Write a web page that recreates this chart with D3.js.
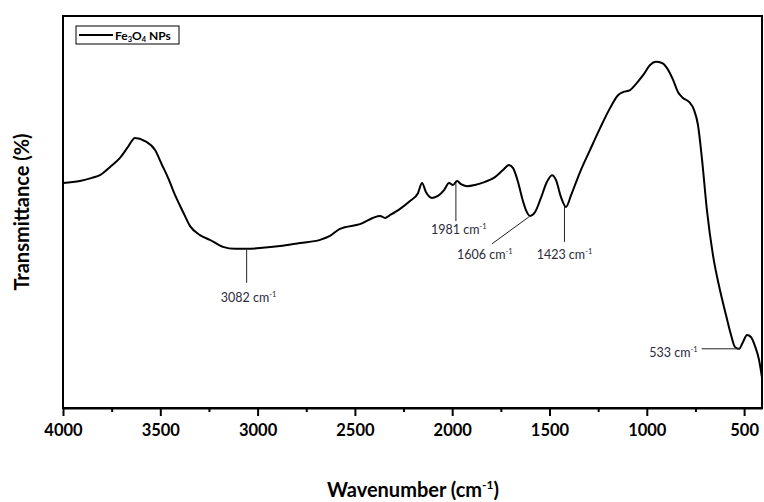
<!DOCTYPE html>
<html><head><meta charset="utf-8">
<script src="https://cdn.jsdelivr.net/npm/d3@7"></script>
<style>body{margin:0;background:#fff}svg{display:block}text{font-family:Lato,"Open Sans",sans-serif}</style>
</head><body><svg id="c" width="764" height="502"></svg>
<script>
// ---- data ----
const wavenumber = [4000,3913,3851,3810,3758,3707,3666,3630,3579,3527,3491,3460,3424,3383,3347,3296,3245,3178,3116,3054,2988,2885,2782,2679,2628,2577,2474,2371,2345,2320,2268,2217,2176,2155,2135,2104,2073,2042,2016,1996,1975,1955,1924,1883,1831,1780,1739,1708,1687,1662,1641,1621,1600,1574,1544,1513,1487,1467,1441,1415,1389,1343,1292,1240,1189,1148,1122,1086,1055,1019,983,953,922,896,865,840,814,783,757,737,716,691,660,624,593,567,547,526,506,485,465,444,423,408];
const transmittance = [57.4,57.9,58.7,59.4,61.5,63.8,66.6,68.9,68.1,65.8,62.0,58.7,54.3,50.0,46.4,44.1,42.9,41.1,40.6,40.6,40.8,41.3,42.1,42.9,43.9,45.7,46.9,49.0,48.5,49.2,50.8,52.8,54.8,57.4,55.1,53.6,54.1,55.6,57.4,56.9,57.9,57.1,56.6,56.9,57.7,58.9,60.7,62.0,61.2,57.7,53.6,50.5,49.0,50.0,53.6,57.7,59.4,58.2,53.8,51.3,54.3,60.2,65.8,71.4,76.5,79.8,80.6,81.1,82.7,84.9,87.5,88.3,88.0,86.7,83.7,80.6,79.1,78.1,76.0,72.2,63.3,50.5,39.0,30.1,23.7,18.6,15.6,15.1,16.8,18.6,18.1,15.8,12.2,7.7];
const xTicks = [4000,3500,3000,2500,2000,1500,1000,500];
const xMinorTicks = [3750,3250,2750,2250,1750,1250,750];
const peakLabels = ["3082","1981","1606","1423","533"];
const peakWavenumber = [3082,1981,1606,1423,533];
const peakT = [40.6,57.9,49.0,51.3,15.1];
const seriesName = "Fe3O4 NPs";

// ---- layout ----
const svg = d3.select("#c");
const L=63, R=762, T=16, B=408;
const x = d3.scaleLinear().domain([4000,408]).range([L,R]);
const y = d3.scaleLinear().domain([0,100]).range([B,T]);

// frame
svg.append("rect").attr("x",L).attr("y",T).attr("width",R-L).attr("height",B-T)
  .attr("fill","none").attr("stroke","#000").attr("stroke-width",2);

// x axis
const ax = svg.append("g").attr("transform",`translate(0,${B})`)
  .call(d3.axisBottom(x).tickValues(xTicks).tickSize(8).tickSizeOuter(0).tickPadding(8).tickFormat(d3.format("d")));
ax.select(".domain").attr("stroke","#000").attr("stroke-width",2);
ax.selectAll(".tick line").attr("stroke","#000").attr("stroke-width",2);
ax.selectAll(".tick text").attr("font-size",16.5).attr("font-weight","bold").attr("fill","#000").attr("font-family","Lato,sans-serif");
const axm = svg.append("g").attr("transform",`translate(0,${B})`)
  .call(d3.axisBottom(x).tickValues(xMinorTicks).tickSize(4).tickFormat(""));
axm.select(".domain").remove();
axm.selectAll(".tick line").attr("stroke","#000").attr("stroke-width",2);

// axis titles
const xt = svg.append("text").attr("x",413).attr("y",497).attr("text-anchor","middle")
  .attr("font-size",20).attr("font-weight","bold").attr("fill","#000");
xt.append("tspan").text("Wavenumber (cm");
xt.append("tspan").attr("font-size",12).attr("dy",-8).text("-1");
xt.append("tspan").attr("dy",8).text(")");
svg.append("text").attr("transform","translate(29,212) rotate(-90)").attr("text-anchor","middle")
  .attr("font-size",20).attr("font-weight","bold").attr("fill","#000").text("Transmittance (%)");

// line
const data = wavenumber.map((w,i)=>({w, t:transmittance[i]}));
svg.append("path").datum(data).attr("fill","none").attr("stroke","#000").attr("stroke-width",2)
  .attr("stroke-linejoin","round")
  .attr("d", d3.line().x(d=>x(d.w)).y(d=>y(d.t)).curve(d3.curveMonotoneX));

// annotations
const annCfg = [
  {ox:5, dy1:1,dx2:0,dy2:34, tx:2, ty:53, anchor:"middle"},
  {ox:0, dy1:2,dx2:0,dy2:40, tx:3, ty:53, anchor:"middle"},
  {ox:0, dy1:1,dx2:-37,dy2:28, tx:-44, ty:43, anchor:"middle"},
  {ox:0, dy1:0,dx2:0,dy2:35, tx:0, ty:52, anchor:"middle"},
  {ox:2, dy1:0,dx2:-38,dy2:0, tx:-42, ty:8, anchor:"end"}
];
peakLabels.forEach((lab,i)=>{
  const c=annCfg[i], px=x(peakWavenumber[i])+c.ox, py=y(peakT[i]);
  svg.append("line").attr("x1",px).attr("y1",py+c.dy1).attr("x2",px+c.dx2).attr("y2",py+c.dy2)
    .attr("stroke","#222").attr("stroke-width",1);
  const t = svg.append("text").attr("x",px+c.tx).attr("y",py+c.ty).attr("text-anchor",c.anchor)
    .attr("font-size",12.5).attr("fill","#2a2a3a");
  t.append("tspan").text(lab+" cm");
  t.append("tspan").attr("font-size",7.5).attr("dy",-5).text("-1");
});

// legend
const lg = svg.append("g");
lg.append("rect").attr("x",76).attr("y",26).attr("width",103).attr("height",18)
  .attr("fill","#fff").attr("stroke","#000").attr("stroke-width",1);
lg.append("line").attr("x1",79).attr("x2",113).attr("y1",35).attr("y2",35).attr("stroke","#000").attr("stroke-width",2);
const lt = lg.append("text").attr("x",115).attr("y",39.5).attr("font-size",12).attr("font-weight","bold").attr("fill","#000");
lt.append("tspan").text("Fe");
lt.append("tspan").attr("font-size",7.5).attr("dy",2).text("3");
lt.append("tspan").attr("dy",-2).text("O");
lt.append("tspan").attr("font-size",7.5).attr("dy",2).text("4");
lt.append("tspan").attr("dy",-2).text(" NPs");
</script></body></html>
